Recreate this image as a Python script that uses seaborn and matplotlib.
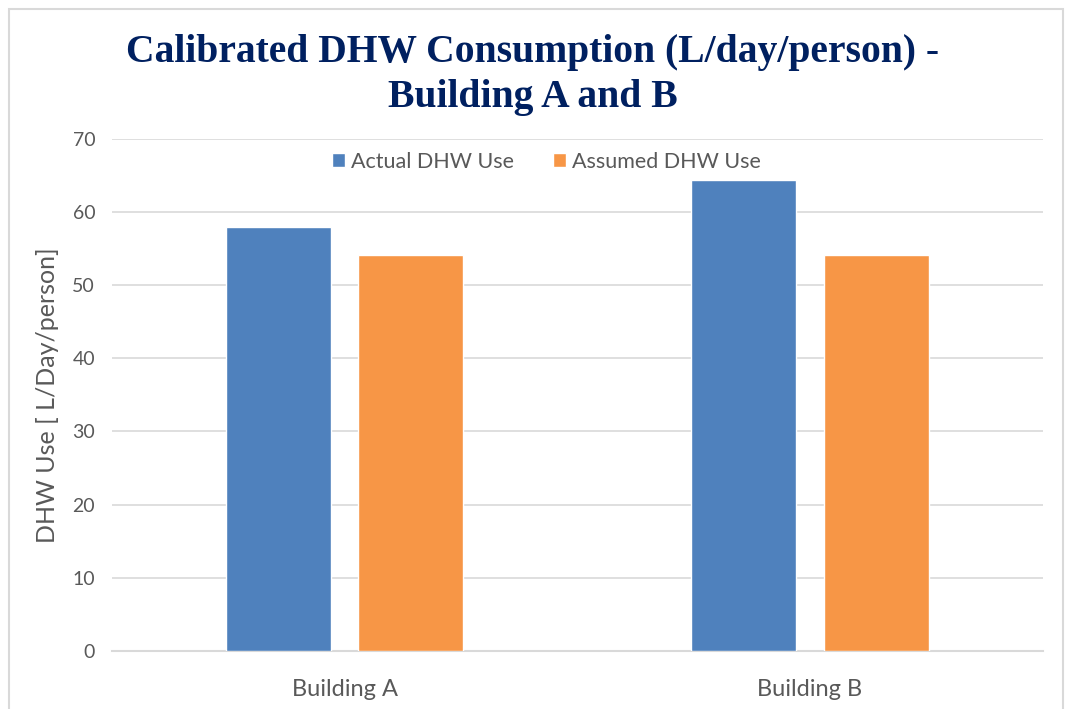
import pandas as pd
import matplotlib.pyplot as plt
import seaborn as sns
from matplotlib.patches import Rectangle

# Data
buildings = ["Building A", "Building B"]
actual_use = [58.0, 64.4]
assumed_use = [54.2, 54.2]
series_names = ["Actual DHW Use", "Assumed DHW Use"]
y_ticks = [0, 10, 20, 30, 40, 50, 60, 70]

df = pd.DataFrame({
    "Building": buildings * 2,
    "Series": [series_names[0]] * 2 + [series_names[1]] * 2,
    "Value": actual_use + assumed_use,
})

sns.set_theme(style="white")
plt.rcParams["font.family"] = ["Lato", "DejaVu Sans"]

fig = plt.figure(figsize=(10.65, 7.09), dpi=100)
ax = fig.add_axes([0.105, 0.082, 0.874, 0.722])

sns.barplot(
    data=df, x="Building", y="Value", hue="Series",
    palette=["#4f81bd", "#f79646"], width=0.57, gap=0.21,
    saturation=1, ax=ax, zorder=3,
)

ax.set_ylim(0, 70)
ax.set_yticks(y_ticks)
ax.set_xlim(-0.5, 1.5)
ax.grid(axis="y", color="#d9d9d9", linewidth=1.2, zorder=0)
ax.set_axisbelow(True)
for side in ["left", "right", "top"]:
    ax.spines[side].set_visible(False)
ax.spines["bottom"].set_color("#d9d9d9")
ax.spines["bottom"].set_linewidth(1.5)
ax.tick_params(axis="y", length=0, labelsize=14, labelcolor="#595959", pad=12)
ax.tick_params(axis="x", length=0, labelsize=17, labelcolor="#595959", pad=20)
ax.set_xlabel("")
ax.set_ylabel("DHW Use [ L/Day/person]", fontsize=18, color="#595959", labelpad=10)

ax.legend(
    loc="upper center", ncol=2, frameon=False,
    fontsize=15.5, labelcolor="#595959", handlelength=0.6, handleheight=0.6,
    handletextpad=0.3, columnspacing=1.8, borderaxespad=0,
)
leg = ax.get_legend()
leg.set_bbox_to_anchor((0.513, 1 - 143 / 709), transform=fig.transFigure)

fig.suptitle(
    "Calibrated DHW Consumption (L/day/person) -\nBuilding A and B",
    y=0.952, fontsize=28.5, fontweight="bold", color="#002060",
    family=["Liberation Serif", "DejaVu Serif"], linespacing=1.3,
)

# light border around the chart area
fig.patches.append(Rectangle((0.008, -0.01), 0.99, 0.998, transform=fig.transFigure,
                             fill=False, edgecolor="#d9d9d9", linewidth=1.5))

fig.savefig("out.png", dpi=100)
